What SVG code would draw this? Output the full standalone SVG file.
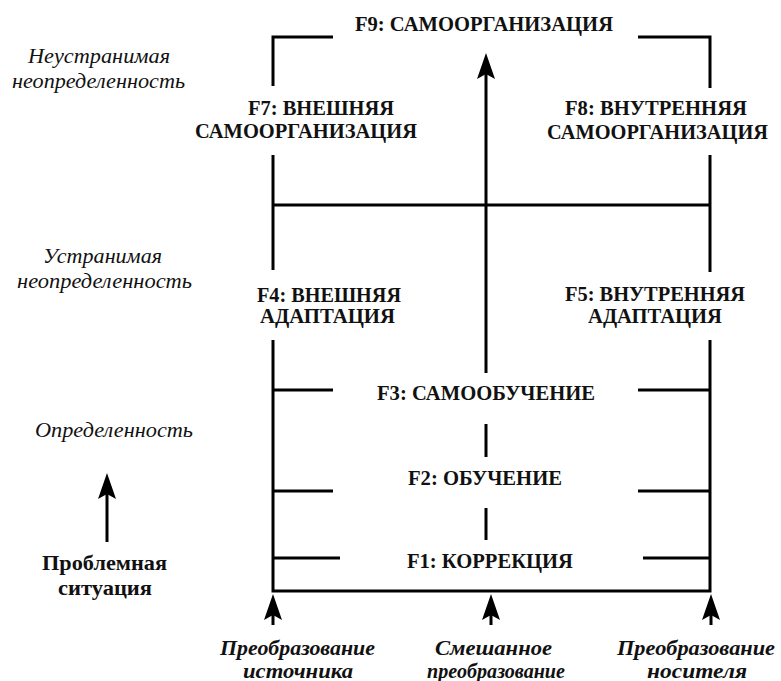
<svg xmlns="http://www.w3.org/2000/svg" xmlns:xlink="http://www.w3.org/1999/xlink" width="781" height="681" viewBox="0 0 781 681">
<style>
.ln{fill:none;stroke:#000;stroke-width:3;stroke-linejoin:miter}
text{font-family:"Liberation Serif","Times New Roman",serif;fill:#111}
.b{font-weight:bold;font-size:20px}
.i{font-style:italic;font-size:20px}
.bi{font-style:italic;font-weight:bold;font-size:20px}
</style>
<defs>
<path id="head" d="M0,0 L9,26 L0,21 L-9,26 Z" fill="#000"/>
</defs>
<rect width="781" height="681" fill="#fff"/>
<g id="connectors">
<path class="ln" d="M333,37 H273 V86"/>
<path class="ln" d="M638,37 H710 V88"/>
<path class="ln" d="M273,155 V270"/>
<path class="ln" d="M710,155 V272"/>
<path class="ln" d="M273,205 H710"/>
<path class="ln" d="M273,340 V591 H710 V340"/>
<path class="ln" d="M273,390 H333 M273,491 H333 M273,558 H340"/>
<path class="ln" d="M638,390 H710 M638,491 H710 M643,558 H710"/>
<path class="ln" d="M486,72 V373 M486,424 V457 M486,508 V540"/>
<use xlink:href="#head" x="486" y="53"/>
<path class="ln" d="M273,614 V625 M491,614 V625 M711,614 V625"/>
<use xlink:href="#head" x="273" y="594"/>
<use xlink:href="#head" x="491" y="594"/>
<use xlink:href="#head" x="711" y="594"/>
<path class="ln" d="M107,492 V542"/>
<use xlink:href="#head" x="107" y="473"/>
</g>
<g id="F9"><text class="b" x="355" y="31" textLength="258" lengthAdjust="spacingAndGlyphs">F9: САМООРГАНИЗАЦИЯ</text></g>
<g id="F7"><text class="b" x="248" y="115" textLength="146" lengthAdjust="spacingAndGlyphs">F7: ВНЕШНЯЯ</text><text class="b" x="195" y="138" textLength="222" lengthAdjust="spacingAndGlyphs">САМООРГАНИЗАЦИЯ</text></g>
<g id="F8"><text class="b" x="565" y="115" textLength="182" lengthAdjust="spacingAndGlyphs">F8: ВНУТРЕННЯЯ</text><text class="b" x="547" y="139" textLength="221" lengthAdjust="spacingAndGlyphs">САМООРГАНИЗАЦИЯ</text></g>
<g id="F4"><text class="b" x="257" y="302" textLength="144" lengthAdjust="spacingAndGlyphs">F4: ВНЕШНЯЯ</text><text class="b" x="260" y="323" textLength="135" lengthAdjust="spacingAndGlyphs">АДАПТАЦИЯ</text></g>
<g id="F5"><text class="b" x="565" y="301" textLength="180" lengthAdjust="spacingAndGlyphs">F5: ВНУТРЕННЯЯ</text><text class="b" x="588" y="323" textLength="134" lengthAdjust="spacingAndGlyphs">АДАПТАЦИЯ</text></g>
<g id="F3"><text class="b" x="377" y="400" textLength="218" lengthAdjust="spacingAndGlyphs">F3: САМООБУЧЕНИЕ</text></g>
<g id="F2"><text class="b" x="408" y="485" textLength="154" lengthAdjust="spacingAndGlyphs">F2: ОБУЧЕНИЕ</text></g>
<g id="F1"><text class="b" x="407" y="568" textLength="166" lengthAdjust="spacingAndGlyphs">F1: КОРРЕКЦИЯ</text></g>
<g id="level-irremovable"><text class="i" x="28" y="63" textLength="142" lengthAdjust="spacingAndGlyphs">Неустранимая</text><text class="i" x="12" y="88" textLength="173" lengthAdjust="spacingAndGlyphs">неопределенность</text></g>
<g id="level-removable"><text class="i" x="43" y="263" textLength="119" lengthAdjust="spacingAndGlyphs">Устранимая</text><text class="i" x="17" y="288" textLength="175" lengthAdjust="spacingAndGlyphs">неопределенность</text></g>
<g id="level-certainty"><text class="i" x="35" y="437" textLength="158" lengthAdjust="spacingAndGlyphs">Определенность</text></g>
<g id="problem"><text class="b" x="42" y="570" textLength="125" lengthAdjust="spacingAndGlyphs">Проблемная</text><text class="b" x="58" y="595" textLength="94" lengthAdjust="spacingAndGlyphs">ситуация</text></g>
<g id="source"><text class="bi" x="220" y="655" textLength="155" lengthAdjust="spacingAndGlyphs">Преобразование</text><text class="bi" x="243" y="678" textLength="110" lengthAdjust="spacingAndGlyphs">источника</text></g>
<g id="mixed"><text class="bi" x="435" y="655" textLength="117" lengthAdjust="spacingAndGlyphs">Смешанное</text><text class="bi" x="427" y="678" textLength="138" lengthAdjust="spacingAndGlyphs">преобразование</text></g>
<g id="carrier"><text class="bi" x="617" y="655" textLength="158" lengthAdjust="spacingAndGlyphs">Преобразование</text><text class="bi" x="647" y="678" textLength="100" lengthAdjust="spacingAndGlyphs">носителя</text></g>
</svg>
